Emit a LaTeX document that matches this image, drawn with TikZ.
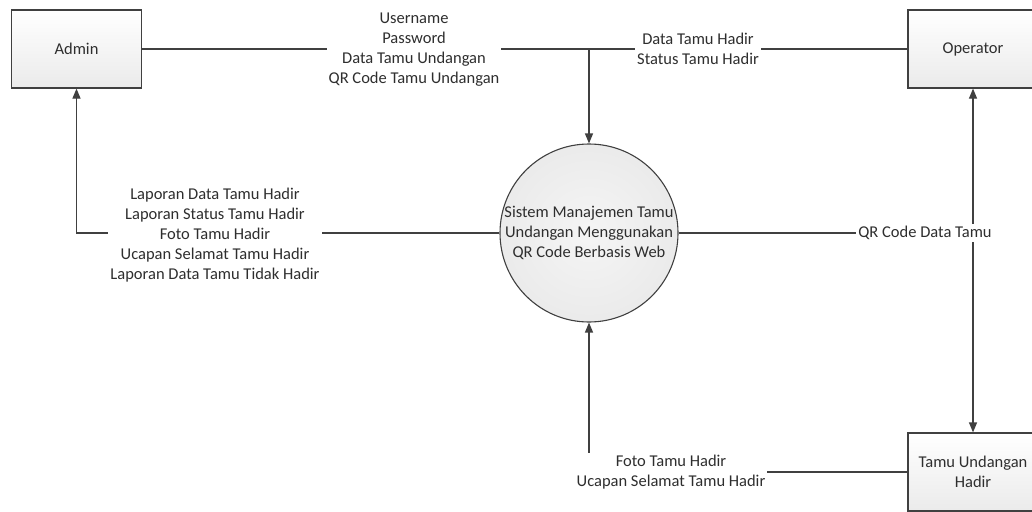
\documentclass[tikz,border=0pt]{standalone}
\usepackage{fontspec}
\setmainfont{Carlito}
\usetikzlibrary{arrows.meta,shapes.geometric}
\definecolor{ink}{HTML}{2E2E2E}
\definecolor{wire}{HTML}{404040}
\begin{document}
\begin{tikzpicture}[x=1pt,y=-1pt,
  every node/.style={font=\fontsize{16.5}{20}\selectfont, text=ink},
  entity/.style={draw=wire, line width=1.2pt, rectangle, top color=white, bottom color=gray!16,
    minimum width=130pt, minimum height=78pt, inner sep=2pt, align=center},
  process/.style={draw=wire, line width=1.1pt, circle, inner color=gray!8, outer color=gray!16,
    minimum size=178pt, inner sep=0pt, align=center},
  flow/.style={draw=wire, line width=1.2pt},
  tip/.style={-{Triangle[length=10pt,width=8pt]}},
  flowlabel/.style={fill=white, inner sep=2pt, align=center}]
\useasboundingbox (0,0) rectangle (1032,511);
\fill[white] (0,0) rectangle (1032,511);

% external entities and the central process
\node[entity] (admin) at (76.5,49) {Admin};
\node[entity] (operator) at (973,49) {Operator};
\node[entity] (tamu) at (973,472) {Tamu Undangan\\Hadir};
\node[process] (proc) at (589,233) {Sistem Manajemen Tamu\\Undangan Menggunakan\\QR Code Berbasis Web};

% junction points where flows meet
\coordinate (jtop) at (589,49);
\coordinate (jright) at (973,233);

% data flows
\draw[flow] (admin.east) -- (jtop);
\draw[flow] (operator.west) -- (jtop);
\draw[flow,tip] (jtop) -- (proc.north);
\draw[flow,tip] (proc.west) -| (admin.south);
\draw[flow] (proc.east) -- (jright);
\draw[flow,tip] (jright) -- (operator.south);
\draw[flow,tip] (jright) -- (tamu.north);
\draw[flow,tip] (tamu.west) -| (proc.south);

% flow labels
\node[flowlabel] (l1) at (414,50) {Username\\Password\\Data Tamu Undangan\\QR Code Tamu Undangan};
\node[flowlabel] (l2) at (698,49) {Data Tamu Hadir\\Status Tamu Hadir};
\node[flowlabel] (l3) at (215,235) {Laporan Data Tamu Hadir\\Laporan Status Tamu Hadir\\Foto Tamu Hadir\\Ucapan Selamat Tamu Hadir\\Laporan Data Tamu Tidak Hadir};
\node[flowlabel] (l4) at (925,233) {QR Code Data Tamu};
\node[flowlabel] (l5) at (671,472) {Foto Tamu Hadir\\Ucapan Selamat Tamu Hadir};
\end{tikzpicture}
\end{document}
